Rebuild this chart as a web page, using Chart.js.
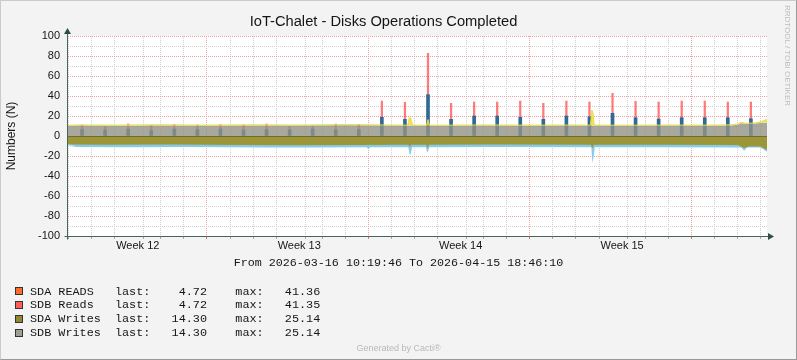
<!DOCTYPE html>
<html>
<head>
<meta charset="utf-8">
<script src="https://cdn.jsdelivr.net/npm/chart.js@4.4.1/dist/chart.umd.min.js"></script>
<style>
html,body{margin:0;padding:0;background:#F3F3F3;}
#wrap{position:relative;width:797px;height:360px;overflow:hidden;background:#F3F3F3;}
#c{position:absolute;left:0;top:0;}
#frame{position:absolute;left:0;top:0;width:797px;height:360px;box-sizing:border-box;border-top:1px solid #CBCBCB;border-left:1px solid #CBCBCB;border-right:1px solid #999;border-bottom:1px solid #999;pointer-events:none;}
.mono{font-family:"Liberation Mono","DejaVu Sans Mono",monospace;white-space:pre;color:#151515;}
#range{position:absolute;left:0;width:797px;text-align:center;top:256px;font-size:11.7px;line-height:14px;}
.row{position:absolute;left:30px;font-size:11.8px;line-height:14px;}
.sw{position:absolute;left:15px;width:6px;height:6px;border:1px solid #333;}
#gen{position:absolute;left:0;width:797px;text-align:center;top:343px;font:9px "Liberation Sans",sans-serif;color:#B8B8B8;line-height:11px;}
#rrd{position:absolute;left:782px;top:5px;writing-mode:vertical-rl;font:8px "Liberation Sans",sans-serif;color:#BDBDBD;line-height:10px;}
</style>
</head>
<body>
<div id="wrap">
  <canvas id="c" width="797" height="360"></canvas>
  <div id="range" class="mono"></div>
  <div id="legend"></div>
  <div id="gen">Generated by Cacti®</div>
  <div id="rrd">RRDTOOL / TOBI OETIKER</div>
  <div id="frame"></div>
</div>
<script>
// ---------------- data ----------------
const YEAR = 2026;
const chartTitle = 'IoT-Chalet - Disks Operations Completed';
const yAxisTitle = 'Numbers (N)';
const rangeStart = '03-16 10:19:46';
const rangeEnd = '04-15 18:46:10';

const weekLabels = ['Week 12', 'Week 13', 'Week 14', 'Week 15'];
const weekLabelAt = ['03-19 12:00', '03-26 12:00', '04-02 12:00', '04-09 12:00'];
const weekStarts = ['03-23 00:00', '03-30 00:00', '04-06 00:00', '04-13 00:00'];
const yTicks = [-100, -90, -80, -70, -60, -50, -40, -30, -20, -10, 0, 10, 20, 30, 40, 50, 60, 70, 80, 90, 100];

// daily read burst at 02:00
const readDays = ['03-17','03-18','03-19','03-20','03-21','03-22','03-23','03-24','03-25','03-26',
                  '03-27','03-28','03-29','03-30','03-31','04-01','04-02','04-03','04-04','04-05',
                  '04-06','04-07','04-08','04-09','04-10','04-11','04-12','04-13','04-14','04-15'];
const readHour = '02:00';
const sdaReads = [6.5, 6, 7, 5.5, 7, 6.5, 7, 6, 6.5, 6, 7, 6, 6.5,
                  18.7, 16.7, 41.4, 16.7, 20, 20, 18.7, 16.7, 20, 19.3, 22.7, 18.3, 17, 18.3, 18.3, 18.3, 17.3];
const sdbReads = [4.5, 3.5, 5, 5, 4.5, 4.5, 4.5, 5, 5.5, 3.5, 3, 6, 5,
                  16.3, 17, 41.35, 16, 14, 14, 16.3, 16, 15, 14.7, 20, 16.4, 17, 16.7, 16.7, 15.7, 16.7];

// writes (positive side, grey area)
const sdbWrites = [
  ['03-16 10:19', 10.0], ['03-16 20:00', 10.4], ['03-18 12:00', 10.3], ['03-20 12:00', 10.6],
  ['03-22 12:00', 10.3], ['03-24 12:00', 10.5], ['03-26 12:00', 10.4], ['03-28 12:00', 10.7],
  ['03-30 12:00', 10.4], ['04-01 12:00', 10.2], ['04-03 12:00', 10.5], ['04-05 12:00', 10.3],
  ['04-07 12:00', 10.4], ['04-09 12:00', 10.2], ['04-11 12:00', 10.4], ['04-13 12:00', 10.3],
  ['04-14 06:00', 10.6], ['04-14 12:00', 11.2], ['04-14 16:00', 12.8], ['04-14 20:00', 12.2],
  ['04-15 06:00', 12.4], ['04-15 12:00', 12.9], ['04-15 18:46', 13.4]
];
// writes outline (yellow edge)
const writesEdge = [
  ['03-16 10:19', 10.7], ['03-16 20:00', 11.1], ['03-18 12:00', 10.9], ['03-20 12:00', 11.3],
  ['03-22 12:00', 10.9], ['03-24 12:00', 11.2], ['03-26 12:00', 11.0], ['03-28 12:00', 11.4],
  ['03-30 12:00', 11.0], ['03-31 05:00', 10.9], ['03-31 06:30', 18.7], ['03-31 08:00', 18.0],
  ['03-31 10:00', 10.9], ['04-01 00:30', 10.8], ['04-01 02:00', 16.5], ['04-01 03:30', 10.8],
  ['04-03 12:00', 11.1], ['04-05 12:00', 10.9], ['04-07 12:00', 11.0], ['04-08 03:00', 10.9],
  ['04-08 04:30', 26.0], ['04-08 05:30', 24.0], ['04-08 07:00', 10.9], ['04-09 12:00', 10.8],
  ['04-11 12:00', 11.0], ['04-13 12:00', 10.9], ['04-14 06:00', 11.2], ['04-14 12:00', 11.9],
  ['04-14 16:00', 13.8], ['04-14 20:00', 12.8], ['04-15 06:00', 13.0], ['04-15 12:00', 14.2],
  ['04-15 18:46', 16.7]
];
// writes (negative side, olive area)
const sdaWrites = [
  ['03-16 10:19', -8.0], ['03-16 16:00', -8.6], ['03-18 00:00', -8.8], ['03-21 00:00', -8.5],
  ['03-24 00:00', -8.9], ['03-26 12:00', -9.3], ['03-29 00:00', -9.0], ['03-31 05:30', -8.8],
  ['03-31 07:00', -11.0], ['03-31 08:30', -8.8], ['04-01 00:00', -8.7], ['04-01 01:30', -12.3],
  ['04-01 03:00', -8.7], ['04-04 00:00', -8.6], ['04-08 03:30', -8.7], ['04-08 05:00', -12.3],
  ['04-08 06:30', -8.7], ['04-11 00:00', -8.8], ['04-14 12:00', -9.0], ['04-14 19:00', -12.0],
  ['04-15 00:00', -10.5], ['04-15 12:00', -10.5], ['04-15 18:46', -14.0]
];
// negative outline (light blue)
const writesOutline = [
  ['03-16 10:19', -9.5], ['03-16 16:00', -9.6], ['03-16 20:00', -11.0], ['03-19 00:00', -11.2],
  ['03-22 00:00', -11.0], ['03-25 00:00', -11.4], ['03-27 00:00', -11.6], ['03-29 10:00', -11.2],
  ['03-29 12:00', -13.0], ['03-29 14:00', -11.2], ['03-31 05:30', -11.2], ['03-31 07:00', -19.0],
  ['03-31 08:00', -18.0], ['03-31 09:30', -11.2], ['04-01 00:00', -11.2], ['04-01 01:00', -16.7],
  ['04-01 02:00', -15.0], ['04-01 03:30', -11.2], ['04-04 00:00', -11.0], ['04-08 04:00', -11.2],
  ['04-08 05:00', -27.0], ['04-08 06:30', -20.0], ['04-08 07:30', -11.2], ['04-11 00:00', -11.2],
  ['04-14 16:00', -11.5], ['04-14 19:00', -14.7], ['04-14 22:00', -11.5], ['04-15 12:00', -11.5],
  ['04-15 18:46', -15.7]
];

const legendNames = ['SDA READS', 'SDB Reads', 'SDA Writes', 'SDB Writes'];
const legendLast = ['4.72', '4.72', '14.30', '14.30'];
const legendMax = ['41.36', '41.35', '25.14', '25.14'];
const legendColors = ['#FF6A2C', '#FF5C5C', '#8E8A2D', '#9E9E95'];

// ---------------- helpers ----------------
function ts(s) {
  const [md, hms = '00:00'] = s.split(' ');
  const [mo, d] = md.split('-').map(Number);
  const [h, mi, se = 0] = hms.split(':').map(Number);
  return Date.UTC(YEAR, mo - 1, d, h, mi, se);
}
const pts = arr => arr.map(([s, v]) => ({x: ts(s), y: v}));
const readPts = vals => readDays.map((d, i) => ({x: ts(d + ' ' + readHour), y: vals[i]}));

const tStart = ts(rangeStart), tEnd = ts(rangeEnd);
const DAY = 864e5;
const dayLines = [];
for (let v = Math.ceil(tStart / DAY) * DAY; v <= tEnd; v += DAY) dayLines.push(v);
const weekSet = new Set(weekStarts.map(ts));
const labelMap = new Map(weekLabelAt.map((s, i) => [ts(s), weekLabels[i]]));
const xTickVals = [...dayLines, ...labelMap.keys()].sort((a, b) => a - b);

const FONT = '"Liberation Sans", Arial, sans-serif';
const RED_GRID = '#EAA3A3';
const GREY_GRID = '#CFCFCF';
const AXIS = '#46655B';

// ---------------- text ----------------
document.getElementById('range').textContent =
  'From ' + YEAR + '-' + rangeStart + ' To ' + YEAR + '-' + rangeEnd;
const lg = document.getElementById('legend');
legendNames.forEach((n, i) => {
  const top = 284.6 + i * 13.8;
  const sw = document.createElement('div');
  sw.className = 'sw';
  sw.style.top = (top + 2.6) + 'px';
  sw.style.background = legendColors[i];
  lg.appendChild(sw);
  const r = document.createElement('div');
  r.className = 'row mono';
  r.style.top = top + 'px';
  r.textContent = n.padEnd(12) + 'last:' + legendLast[i].padStart(8) + '    max:' + legendMax[i].padStart(8);
  lg.appendChild(r);
});

// ---------------- chart ----------------
const decor = {
  id: 'decor',
  beforeDraw(chart) {
    const {ctx, chartArea: a} = chart;
    ctx.save();
    ctx.fillStyle = '#FFFFFF';
    ctx.fillRect(a.left, a.top, a.right - a.left, a.bottom - a.top);
    ctx.restore();
  },
  afterDatasetsDraw(chart) {
    const {ctx, chartArea: a, scales: {y}} = chart;
    const y0 = Math.round(y.getPixelForValue(0)) + 0.5;
    ctx.save();
    ctx.strokeStyle = 'rgba(98,94,40,0.75)';
    ctx.lineWidth = 1;
    ctx.beginPath(); ctx.moveTo(a.left, y0); ctx.lineTo(a.right, y0); ctx.stroke();
    ctx.restore();
  },
  afterDraw(chart) {
    const {ctx, chartArea: a} = chart;
    const x0 = Math.round(a.left) + 0.5, yb = Math.round(a.bottom) + 0.5;
    ctx.save();
    ctx.strokeStyle = AXIS; ctx.fillStyle = '#2E4F44'; ctx.lineWidth = 1;
    ctx.beginPath();
    ctx.moveTo(x0, yb + 3); ctx.lineTo(x0, a.top - 3);
    ctx.moveTo(x0 - 3, yb); ctx.lineTo(a.right + 2, yb);
    ctx.stroke();
    ctx.beginPath();
    ctx.moveTo(x0, a.top - 8); ctx.lineTo(x0 - 3.5, a.top - 2); ctx.lineTo(x0 + 3.5, a.top - 2); ctx.closePath();
    ctx.fill();
    ctx.beginPath();
    ctx.moveTo(a.right + 7, yb); ctx.lineTo(a.right + 1, yb - 3.5); ctx.lineTo(a.right + 1, yb + 3.5); ctx.closePath();
    ctx.fill();
    ctx.restore();
  }
};

const line = (o) => Object.assign({type: 'line', pointRadius: 0, pointHoverRadius: 0, tension: 0, borderWidth: 0}, o);

new Chart(document.getElementById('c'), {
  type: 'line',
  data: {
    datasets: [
      line({label: 'Writes outline', data: pts(writesOutline), fill: 'origin',
            backgroundColor: '#86CBEE', borderColor: '#86CBEE', order: 6, stack: 's0'}),
      line({label: 'SDA Writes', data: pts(sdaWrites), fill: 'origin',
            backgroundColor: '#9D9638', borderColor: '#9D9638', order: 5, stack: 's1'}),
      {type: 'bar', label: 'SDA READS', data: readPts(sdaReads), backgroundColor: '#2F6996',
       barThickness: 3, borderWidth: 0, stack: 'reads', order: 3},
      {type: 'bar', label: 'SDB Reads', data: readPts(sdbReads), backgroundColor: 'rgba(255,70,70,0.72)',
       barThickness: 1.6, borderWidth: 0, stack: 'reads', order: 4},
      line({label: 'SDB Writes', data: pts(sdbWrites), fill: 'origin',
            backgroundColor: 'rgba(146,146,134,0.8)', borderColor: 'rgba(0,0,0,0)', order: 2, stack: 's4'}),
      line({label: 'Writes edge', data: pts(writesEdge),
            fill: {target: 4, above: 'rgba(238,222,58,0.85)', below: 'rgba(0,0,0,0)'},
            borderColor: 'rgba(232,220,68,0.9)', borderWidth: 1, order: 1, stack: 's5'})
    ]
  },
  options: {
    responsive: false,
    animation: false,
    devicePixelRatio: 1,
    events: [],
    layout: {padding: {left: 0, right: 30, top: 0, bottom: 0}},
    plugins: {
      legend: {display: false},
      tooltip: {enabled: false},
      title: {
        display: true, text: chartTitle, color: '#151515',
        font: {family: FONT, size: 14.7, weight: 'normal'},
        padding: {top: 13.4, bottom: 5}
      }
    },
    scales: {
      x: {
        type: 'linear', min: tStart, max: tEnd, offset: false,
        afterBuildTicks: s => { s.ticks = xTickVals.map(v => ({value: v})); },
        afterFit: s => { s.height = 124; },
        ticks: {
          autoSkip: false, maxRotation: 0, minRotation: 0, padding: 0,
          color: '#151515', font: {family: FONT, size: 11},
          callback: v => labelMap.get(v) || ''
        },
        grid: {
          lineWidth: 1, drawTicks: true, tickLength: 3, tickBorderDash: [],
          color: c => labelMap.has(c.tick && c.tick.value) ? 'rgba(0,0,0,0)' : (weekSet.has(c.tick && c.tick.value) ? RED_GRID : GREY_GRID),
          tickColor: c => labelMap.has(c.tick && c.tick.value) ? 'rgba(0,0,0,0)' : (weekSet.has(c.tick && c.tick.value) ? '#E07070' : '#A8A8A8')
        },
        border: {display: true, color: AXIS, width: 1, dash: [1, 1]}
      },
      y: {
        type: 'linear', min: -100, max: 100, stacked: true,
        afterBuildTicks: s => { s.ticks = yTicks.map(v => ({value: v})); },
        afterFit: s => { s.width = 67; },
        ticks: {
          autoSkip: false, padding: 7, color: '#151515', font: {family: FONT, size: 11},
          callback: v => (v % 20 === 0 ? String(v) : '')
        },
        grid: {
          lineWidth: 1, drawTicks: false,
          color: c => (c.tick && c.tick.value % 20 === 0) ? RED_GRID : GREY_GRID
        },
        border: {display: true, color: AXIS, width: 1, dash: [1, 1]},
        title: {
          display: true, text: yAxisTitle, color: '#151515',
          font: {family: FONT, size: 12}, padding: {top: 4, bottom: 0}
        }
      }
    }
  },
  plugins: [decor]
});
</script>
</body>
</html>
